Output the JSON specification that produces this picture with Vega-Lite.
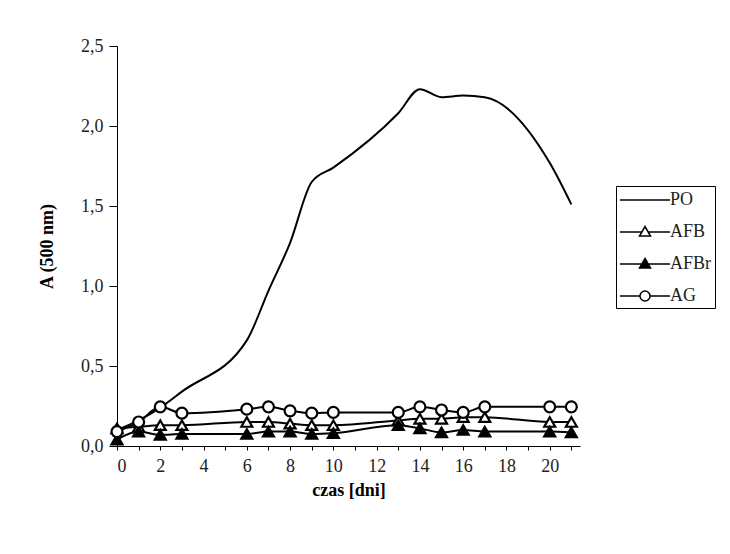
{
  "$schema": "https://vega.github.io/schema/vega-lite/v6.json",
  "autosize": {"type": "none"},
  "width": 463,
  "height": 400,
  "padding": {"left": 117, "top": 46, "right": 150, "bottom": 108},
  "background": "white",
  "config": {
    "view": {"stroke": null},
    "font": "Liberation Serif",
    "axis": {"grid": false, "domainColor": "black", "tickColor": "black", "labelFont": "Liberation Serif", "titleFont": "Liberation Serif"}
  },
  "data": {
    "values": [
      {"series": "PO", "day": 0, "A": 0.10},
      {"series": "PO", "day": 1, "A": 0.16},
      {"series": "PO", "day": 2, "A": 0.24},
      {"series": "PO", "day": 3, "A": 0.34},
      {"series": "PO", "day": 6, "A": 0.66},
      {"series": "PO", "day": 7, "A": 0.97},
      {"series": "PO", "day": 8, "A": 1.27},
      {"series": "PO", "day": 9, "A": 1.65},
      {"series": "PO", "day": 10, "A": 1.74},
      {"series": "PO", "day": 13, "A": 2.08},
      {"series": "PO", "day": 14, "A": 2.23},
      {"series": "PO", "day": 15, "A": 2.18},
      {"series": "PO", "day": 16, "A": 2.19},
      {"series": "PO", "day": 17, "A": 2.18},
      {"series": "PO", "day": 20, "A": 1.77},
      {"series": "PO", "day": 21, "A": 1.51},
      {"series": "AFB", "day": 0, "A": 0.11},
      {"series": "AFB", "day": 1, "A": 0.12},
      {"series": "AFB", "day": 2, "A": 0.13},
      {"series": "AFB", "day": 3, "A": 0.13},
      {"series": "AFB", "day": 6, "A": 0.15},
      {"series": "AFB", "day": 7, "A": 0.15},
      {"series": "AFB", "day": 8, "A": 0.14},
      {"series": "AFB", "day": 9, "A": 0.13},
      {"series": "AFB", "day": 10, "A": 0.13},
      {"series": "AFB", "day": 13, "A": 0.16},
      {"series": "AFB", "day": 14, "A": 0.17},
      {"series": "AFB", "day": 15, "A": 0.17},
      {"series": "AFB", "day": 16, "A": 0.18},
      {"series": "AFB", "day": 17, "A": 0.18},
      {"series": "AFB", "day": 20, "A": 0.15},
      {"series": "AFB", "day": 21, "A": 0.15},
      {"series": "AFBr", "day": 0, "A": 0.04},
      {"series": "AFBr", "day": 1, "A": 0.09},
      {"series": "AFBr", "day": 2, "A": 0.07},
      {"series": "AFBr", "day": 3, "A": 0.075},
      {"series": "AFBr", "day": 6, "A": 0.075},
      {"series": "AFBr", "day": 7, "A": 0.09},
      {"series": "AFBr", "day": 8, "A": 0.09},
      {"series": "AFBr", "day": 9, "A": 0.075},
      {"series": "AFBr", "day": 10, "A": 0.08},
      {"series": "AFBr", "day": 13, "A": 0.13},
      {"series": "AFBr", "day": 14, "A": 0.11},
      {"series": "AFBr", "day": 15, "A": 0.085},
      {"series": "AFBr", "day": 16, "A": 0.10},
      {"series": "AFBr", "day": 17, "A": 0.09},
      {"series": "AFBr", "day": 20, "A": 0.09},
      {"series": "AFBr", "day": 21, "A": 0.085},
      {"series": "AG", "day": 0, "A": 0.09},
      {"series": "AG", "day": 1, "A": 0.15},
      {"series": "AG", "day": 2, "A": 0.245},
      {"series": "AG", "day": 3, "A": 0.205},
      {"series": "AG", "day": 6, "A": 0.23},
      {"series": "AG", "day": 7, "A": 0.245},
      {"series": "AG", "day": 8, "A": 0.22},
      {"series": "AG", "day": 9, "A": 0.205},
      {"series": "AG", "day": 10, "A": 0.21},
      {"series": "AG", "day": 13, "A": 0.21},
      {"series": "AG", "day": 14, "A": 0.245},
      {"series": "AG", "day": 15, "A": 0.225},
      {"series": "AG", "day": 16, "A": 0.21},
      {"series": "AG", "day": 17, "A": 0.245},
      {"series": "AG", "day": 20, "A": 0.245},
      {"series": "AG", "day": 21, "A": 0.245}
    ]
  },
  "encoding": {
    "x": {
      "field": "day", "type": "quantitative",
      "scale": {"domain": [0, 21.4], "nice": false, "zero": false},
      "axis": {
        "title": "czas [dni]",
        "values": [0,1,2,3,4,5,6,7,8,9,10,11,12,13,14,15,16,17,18,19,20,21],
        "labelExpr": "datum.value % 2 == 0 ? datum.value : ''",
        "labelFontSize": 18, "labelColor": "#222", "labelPadding": 7,
        "tickSize": 4, "labelOverlap": false,
        "titleFontSize": 18, "titleFontWeight": "bold", "titleColor": "black", "titlePadding": 6
      }
    },
    "y": {
      "field": "A", "type": "quantitative",
      "scale": {"domain": [0, 2.5], "nice": false},
      "axis": {
        "title": "A (500 nm)",
        "values": [0, 0.5, 1, 1.5, 2, 2.5],
        "labelExpr": "replace(format(datum.value, '.1f'), '.', ',')",
        "labelFontSize": 18, "labelColor": "#222", "labelPadding": 6,
        "tickSize": 8,
        "titleFontSize": 18, "titleFontWeight": "bold", "titleColor": "black", "titlePadding": 24
      }
    }
  },
  "layer": [
    {
      "mark": {"type": "line", "color": "black", "strokeWidth": 2, "interpolate": "monotone"},
      "encoding": {"detail": {"field": "series"}}
    },
    {
      "transform": [{"filter": "datum.series != 'PO'"}],
      "mark": {"type": "point", "filled": true, "stroke": "black", "strokeWidth": 2.2, "opacity": 1},
      "encoding": {
        "shape": {"field": "series", "type": "nominal", "scale": {"domain": ["AFB", "AFBr", "AG"], "range": ["triangle-up", "triangle-up", "circle"]}, "legend": null},
        "fill": {"field": "series", "type": "nominal", "scale": {"domain": ["AFB", "AFBr", "AG"], "range": ["white", "black", "white"]}, "legend": null},
        "size": {"field": "series", "type": "nominal", "scale": {"domain": ["AFB", "AFBr", "AG"], "range": [120, 120, 200]}, "legend": null}
      }
    },
    {
      "transform": [{"filter": "datum.day < 0"}],
      "mark": {"type": "point", "filled": true, "stroke": "black", "strokeWidth": 2, "size": 400},
      "encoding": {
        "shape": {
          "field": "series", "type": "nominal",
          "scale": {"domain": ["PO", "AFB", "AFBr", "AG"], "range": [
            "M-2.5,0H2.5",
            "M-2.5,0H-0.35M0.35,0H2.5M0,-0.55L0.55,0.4L-0.55,0.4Z",
            "M-2.5,0H-0.35M0.35,0H2.5M0,-0.55L0.55,0.4L-0.55,0.4Z",
            "M-2.5,0H-0.5M0.5,0H2.5M-0.5,0A0.5,0.5 0 1,0 0.5,0A0.5,0.5 0 1,0 -0.5,0Z"
          ]},
          "legend": {
            "title": null, "orient": "none", "legendX": 499, "legendY": 140,
            "strokeColor": "black", "padding": 3,
            "symbolSize": 400, "symbolOpacity": 1, "symbolOffset": 15,
            "labelFont": "Liberation Serif", "labelFontSize": 18, "labelColor": "#222", "labelOffset": 14,
            "rowPadding": 12, "labelLimit": 200,
            "encode": {"symbols": {"update": {"stroke": {"value": "black"}, "strokeWidth": {"value": 2}, "opacity": {"value": 1}}}}
          }
        },
        "fill": {
          "field": "series", "type": "nominal",
          "scale": {"domain": ["PO", "AFB", "AFBr", "AG"], "range": ["white", "white", "black", "white"]}
        }
      }
    }
  ],
  "resolve": {"scale": {"shape": "independent", "fill": "independent", "size": "independent"}, "legend": {"shape": "independent", "fill": "independent"}}
}
